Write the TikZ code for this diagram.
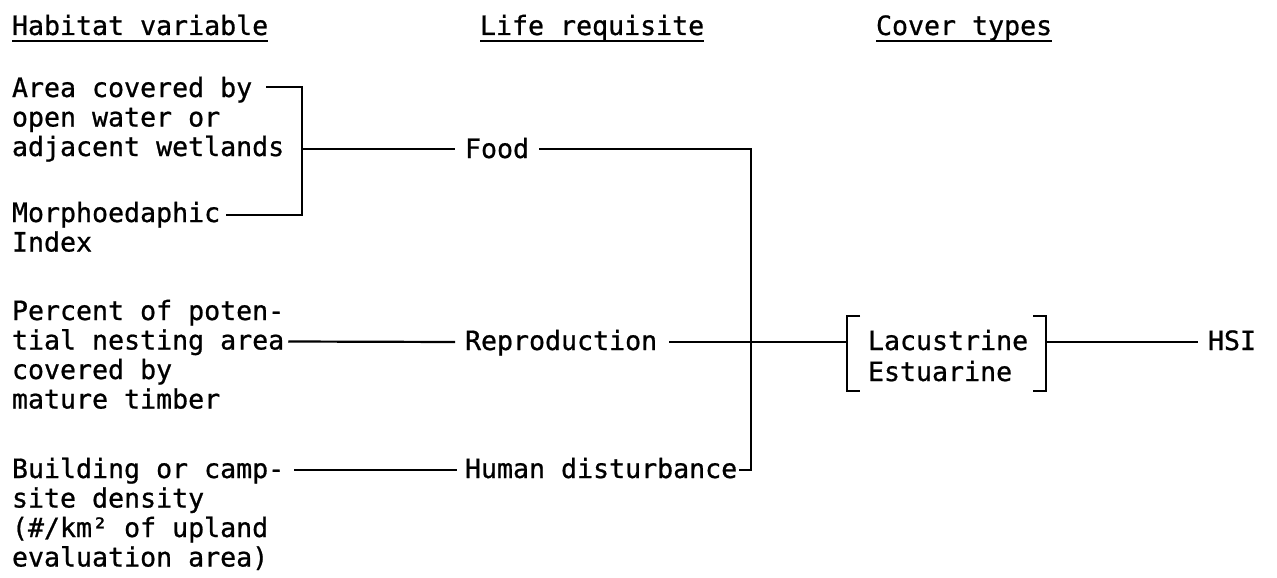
\documentclass[tikz,border=0pt]{standalone}
\usepackage{fontspec}
\newfontfamily\tw[FakeBold=0.8]{DejaVu Sans Mono}
\begin{document}
\begin{tikzpicture}[x=1pt,y=-1pt,
  txt/.style={anchor=base west, inner sep=0pt, outer sep=0pt, font=\tw\fontsize{26.6}{29.5}\selectfont},
  ln/.style={line width=2.2pt, line cap=butt, line join=miter},
  ul/.style={line width=2pt}]
\useasboundingbox (0,0) rectangle (1277,578);
% headings
\node[txt] (h1) at (12,35) {Habitat variable};
\node[txt] (h2) at (480,35) {Life requisite};
\node[txt] (h3) at (876,35) {Cover types};
\foreach \h in {h1,h2,h3}
  \draw[ul] ([yshift=-6pt]\h.base west) -- ([yshift=-6pt]\h.base east);
% habitat variables
\node[txt] (a1) at (12,97) {Area covered by};
\node[txt] (a2) at (12,126.5) {open water or};
\node[txt] (a3) at (12,156) {adjacent wetlands};
\node[txt] (m1) at (12,222) {Morphoedaphic};
\node[txt] (m2) at (12,251.5) {Index};
\node[txt] (p1) at (12,320) {Percent of poten-};
\node[txt] (p2) at (12,349.5) {tial nesting area};
\node[txt] (p3) at (12,379) {covered by};
\node[txt] (p4) at (12,408.5) {mature timber};
\node[txt] (b1) at (12,478) {Building or camp-};
\node[txt] (b2) at (12,507.5) {site density};
\node[txt] (b3) at (12,537) {(\#/km² of upland};
\node[txt] (b4) at (12,566.5) {evaluation area)};
% life requisites
\node[txt] (f) at (465,158) {Food};
\node[txt] (r) at (465,350) {Reproduction};
\node[txt] (hd) at (465,478) {Human disturbance};
% cover types
\node[txt] (c1) at (868,350) {Lacustrine};
\node[txt] (c2) at (868,381) {Estuarine};
\node[txt] (hsi) at (1208,350) {HSI};
% junction coordinates
\coordinate (k1) at (302,87);
\coordinate (k2) at (302,215);
\coordinate (k3) at (302,149);
\coordinate (k4) at (751,149);
\coordinate (k5) at (751,470);
\coordinate (lb) at (847,342);
\coordinate (rb) at (1046,342);
% connectors
\draw[ln] ([xshift=14pt,yshift=10pt]a1.base east) -- (k1) -- (k2) -- ([xshift=6pt,yshift=7pt]m1.base east);
\draw[ln] (k3) -- ([xshift=-10pt,yshift=9pt]f.base west);
\draw[ln] ([xshift=10pt,yshift=9pt]f.base east) -- (k4) -- (k5) -- ([xshift=2pt,yshift=8pt]hd.base east);
\draw[ln] ([xshift=4pt,yshift=8pt]p2.base east) -- ([xshift=-10pt,yshift=8pt]r.base west);
\draw[ln] ([xshift=12pt,yshift=8pt]r.base east) -- (lb);
\draw[ln] ([xshift=10pt,yshift=8pt]b1.base east) -- ([xshift=-8pt,yshift=8pt]hd.base west);
\draw[ln] (rb) -- ([xshift=-10pt,yshift=8pt]hsi.base west);
% brackets
\draw[ln] (860,316) -- (847,316) -- (lb) -- (847,391) -- (860,391);
\draw[ln] (1033,316) -- (1046,316) -- (rb) -- (1046,391) -- (1033,391);
\end{tikzpicture}
\end{document}
